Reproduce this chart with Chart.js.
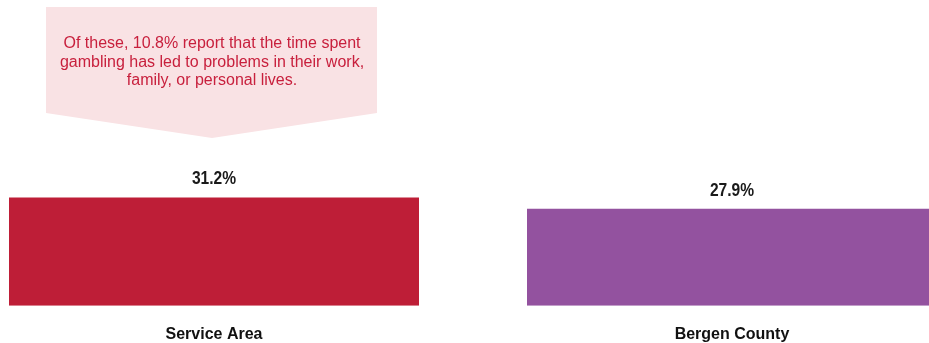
<!DOCTYPE html>
<html><head><meta charset="utf-8">
<script src="https://cdn.jsdelivr.net/npm/chart.js@4/dist/chart.umd.min.js"></script>
<style>
html,body{margin:0;padding:0;background:#fff;overflow:hidden;width:929px;height:343px;}
#wrap{position:absolute;left:-45px;top:0;width:1036px;height:366px;}
</style></head>
<body>
<div id="wrap"><canvas id="c"></canvas></div>
<script>
const categories = ["Service Area", "Bergen County"];
const values = [31.2, 27.9];
const barColors = ["#BE1E37", "#93529F"];
const calloutLines = [
  "Of these, 10.8% report that the time spent",
  "gambling has led to problems in their work,",
  "family, or personal lives."
];
const SANS = '"Liberation Sans", Arial, sans-serif';

const valueLabels = {
  id: 'valueLabels',
  afterDatasetsDraw(chart) {
    const ctx = chart.ctx;
    const meta = chart.getDatasetMeta(0);
    meta.data.forEach((bar, i) => {
      ctx.save();
      ctx.translate(bar.x, bar.y - 13);
      ctx.scale(0.82, 1);
      ctx.font = 'bold 19px ' + SANS;
      ctx.fillStyle = '#1a1a1a';
      ctx.textAlign = 'center';
      ctx.textBaseline = 'alphabetic';
      ctx.fillText(values[i].toFixed(1) + '%', 0, 0);
      ctx.restore();
    });
  }
};

const callout = {
  id: 'callout',
  afterDraw(chart) {
    const ctx = chart.ctx;
    const bar = chart.getDatasetMeta(0).data[0];
    const cx = bar.x - 2;
    const left = cx - 166, right = cx + 165;
    const top = 7, sideBottom = 113, tip = 138;
    ctx.save();
    ctx.beginPath();
    ctx.moveTo(left, top);
    ctx.lineTo(right, top);
    ctx.lineTo(right, sideBottom);
    ctx.lineTo(cx, tip);
    ctx.lineTo(left, sideBottom);
    ctx.closePath();
    ctx.fillStyle = '#F9E2E4';
    ctx.fill();
    ctx.font = '16px ' + SANS;
    ctx.fillStyle = '#C8203D';
    ctx.textAlign = 'center';
    ctx.textBaseline = 'alphabetic';
    const ys = [48, 66.5, 85];
    calloutLines.forEach((t, i) => ctx.fillText(t, cx, ys[i]));
    ctx.restore();
  }
};

new Chart(document.getElementById('c'), {
  type: 'bar',
  data: {
    labels: categories,
    datasets: [{
      data: values,
      backgroundColor: barColors,
      borderWidth: 0,
      barPercentage: 0.7915,
      categoryPercentage: 1.0
    }]
  },
  options: {
    responsive: true,
    maintainAspectRatio: false,
    animation: false,
    layout: { padding: { top: 0, bottom: 3, left: 0, right: 0 } },
    plugins: { legend: { display: false }, tooltip: { enabled: false } },
    scales: {
      x: {
        grid: { display: false, drawTicks: false },
        border: { display: false },
        ticks: {
          padding: 19,
          color: '#111',
          font: { family: SANS, size: 16, weight: 'bold' }
        }
      },
      y: {
        display: false,
        min: 0,
        max: 88
      }
    }
  },
  plugins: [valueLabels, callout]
});
</script>
</body></html>
